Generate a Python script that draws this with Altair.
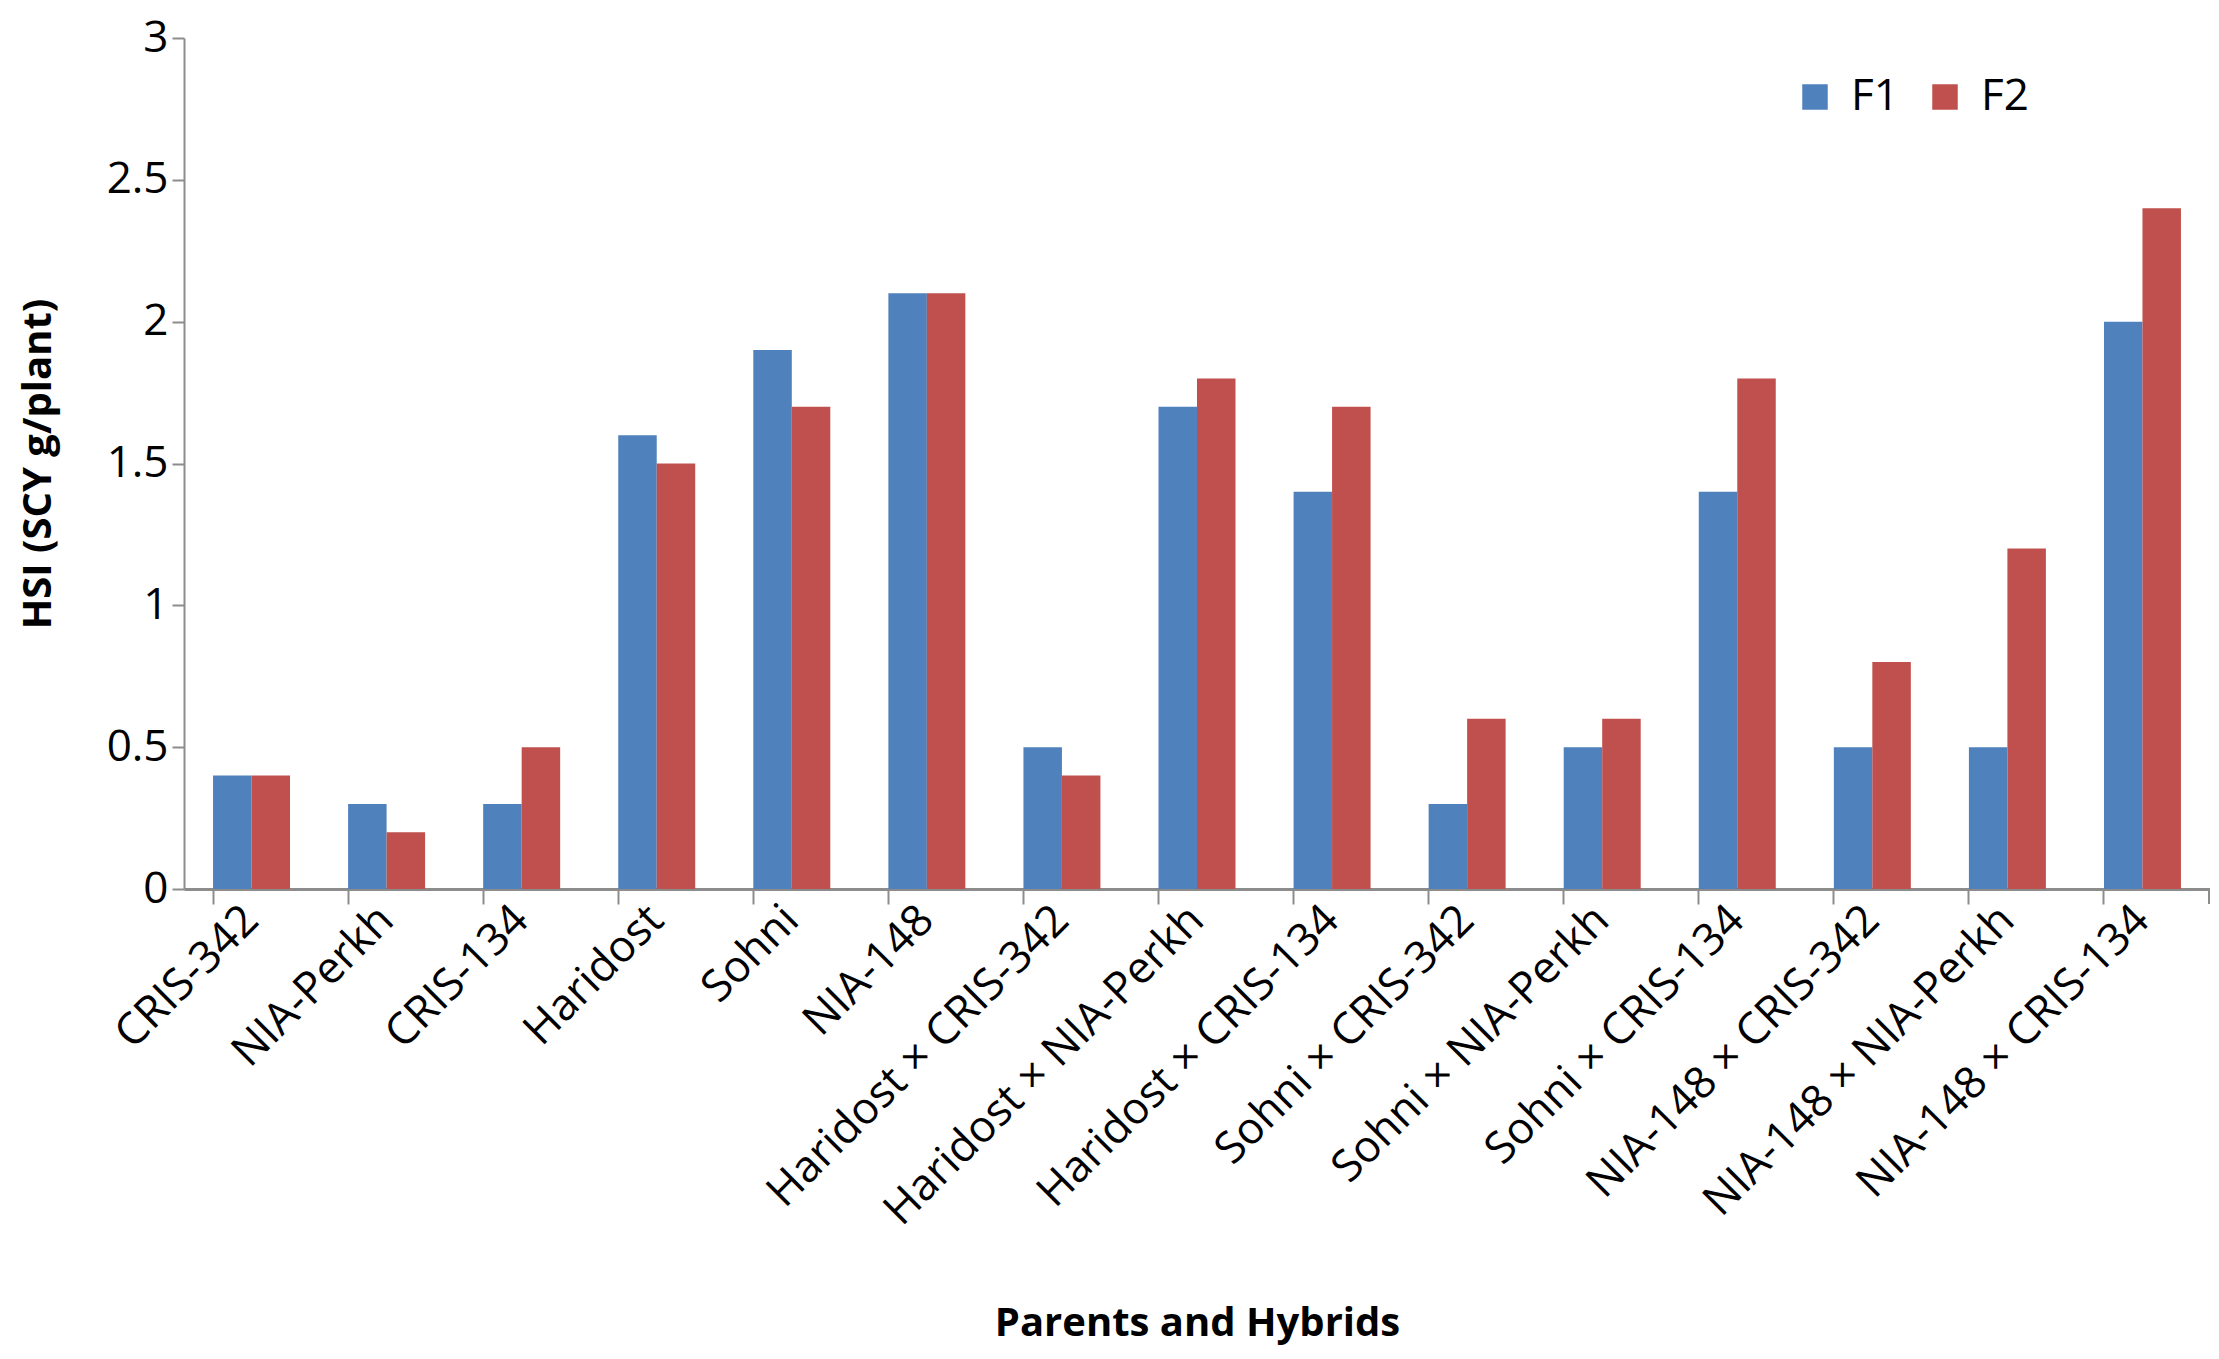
import altair as alt
import pandas as pd

categories = ["CRIS-342", "NIA-Perkh", "CRIS-134", "Haridost", "Sohni", "NIA-148",
              "Haridost × CRIS-342", "Haridost × NIA-Perkh", "Haridost × CRIS-134",
              "Sohni × CRIS-342", "Sohni × NIA-Perkh", "Sohni × CRIS-134",
              "NIA-148 × CRIS-342", "NIA-148 × NIA-Perkh", "NIA-148 × CRIS-134"]
f1 = [0.4, 0.3, 0.3, 1.6, 1.9, 2.1, 0.5, 1.7, 1.4, 0.3, 0.5, 1.4, 0.5, 0.5, 2.0]
f2 = [0.4, 0.2, 0.5, 1.5, 1.7, 2.1, 0.4, 1.8, 1.7, 0.6, 0.6, 1.8, 0.8, 1.2, 2.4]
series = ["F1", "F2"]
colors = ["#4F81BD", "#C0504D"]
y_ticks = [0, 0.5, 1, 1.5, 2, 2.5, 3]

rows = []
for c, a, b in zip(categories, f1, f2):
    rows.append({"cat": c, "series": "F1", "value": a})
    rows.append({"cat": c, "series": "F2", "value": b})
df = pd.DataFrame(rows)

W, H = 2026, 851
FONT = "Open Sans"
GRAY = "#8c8c8c"

bars = alt.Chart(df).mark_bar().encode(
    x=alt.X("cat:N", sort=categories, title="Parents and Hybrids",
            scale=alt.Scale(paddingInner=0.43, paddingOuter=0.215),
            axis=alt.Axis(labelAngle=-45, labelAlign="right", labelBaseline="middle",
                          labelFont=FONT, labelFontSize=44, labelColor="black",
                          labelPadding=9, labelLimit=0,
                          bandPosition=0, ticks=True, tickSize=15,
                          tickColor=GRAY, tickWidth=2,
                          domainColor=GRAY, domainWidth=3,
                          titleFont=FONT, titleFontSize=40, titleFontWeight="bold",
                          titleColor="black", titleX=W / 2, titleY=434,
                          titleBaseline="middle", titleAlign="center")),
    xOffset=alt.XOffset("series:N", sort=series,
                        scale=alt.Scale(paddingInner=0, paddingOuter=0)),
    y=alt.Y("value:Q", title="HSI (SCY g/plant)",
            scale=alt.Scale(domain=[0, 3], nice=False),
            axis=alt.Axis(values=y_ticks, format="~g", grid=False,
                          labelFont=FONT, labelFontSize=44, labelColor="black",
                          labelPadding=4, tickSize=12, tickColor=GRAY, tickWidth=2,
                          domainColor=GRAY, domainWidth=2,
                          titleFont=FONT, titleFontSize=40, titleFontWeight="bold",
                          titleColor="black", titleX=-146, titleY=H / 2,
                          titleBaseline="middle", titleAlign="center")),
    color=alt.Color("series:N", scale=alt.Scale(domain=series, range=colors),
                    legend=alt.Legend(title=None, orient="none", legendX=1609, legendY=37,
                                      direction="horizontal", symbolType="square",
                                      symbolSize=650, symbolStrokeWidth=0,
                                      labelFont=FONT, labelFontSize=44, labelColor="black",
                                      labelOffset=14, columnPadding=24)),
)

end_tick = alt.Chart(pd.DataFrame({"cat": [categories[-1]]})).mark_rule(
    color=GRAY, strokeWidth=2).encode(
    x=alt.value(W - 1),
    y=alt.value(H),
    y2=alt.value(H + 15),
)

chart = alt.layer(bars, end_tick).properties(
    width=W, height=H,
    padding={"left": 176, "top": 30, "right": 0, "bottom": 462},
    autosize=alt.AutoSizeParams(type="none"),
).configure_view(stroke=None)

chart.save("out.html", embed_options={"renderer": "svg", "actions": False})
